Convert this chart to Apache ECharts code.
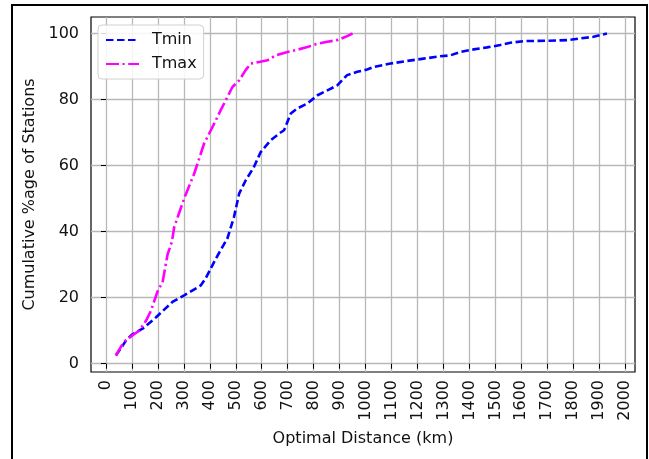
<!DOCTYPE html>
<html>
<head>
<meta charset="utf-8">
<script src="https://cdn.jsdelivr.net/npm/echarts@6/dist/echarts.min.js"></script>
<style>
  html, body { margin: 0; padding: 0; background: #fff; }
  #chart { width: 649px; height: 459px; }
</style>
</head>
<body>
<div id="chart"></div>
<script>
// values
const tminX = [38, 60, 77, 100, 141, 192, 256, 301, 365, 385, 423, 468, 493, 513, 538, 570, 596, 635, 667, 686,
  712, 737, 776, 815, 853, 891, 929, 968, 1006, 1032, 1096, 1160, 1224, 1288, 1327, 1365, 1417, 1468, 1519,
  1558, 1609, 1699, 1776, 1827, 1878, 1930]
const tminY = [2.5, 5, 7, 8.8, 10.6, 14, 18.7, 20.7, 23.7, 26, 31.8, 38, 44.4, 51.5, 55.5, 59.6, 64.1, 67.7, 69.7, 70.7,
  75.8, 77.3, 78.8, 81.3, 82.8, 84.3, 87.4, 88.4, 89.1, 89.9, 90.9, 91.7, 92.4, 93.1, 93.4, 94.4, 95.2, 95.8, 96.5,
  97.2, 97.7, 97.8, 98, 98.5, 99, 100]

const tmaxX = [38, 58, 75, 100, 128, 154, 173, 199, 218, 237, 254, 263, 301, 340, 378, 404, 423, 442, 468, 487,
  513, 538, 558, 590, 622, 654, 699, 737, 776, 815, 853, 891, 923, 950]
const tmaxY = [2.5, 5.2, 7, 8.5, 10, 13, 16, 22, 24.7, 33, 37, 41.4, 50, 57.6, 66.7, 70.7, 73.7, 76.8, 80.8, 83.8,
  85.8, 88.9, 90.9, 91.4, 91.9, 93.4, 94.4, 95.1, 95.9, 96.9, 97.5, 98, 99, 100]

const xTicks = [0, 100, 200, 300, 400, 500, 600, 700, 800, 900, 1000, 1100, 1200, 1300, 1400, 1500, 1600, 1700, 1800, 1900, 2000]
const yTicks = [0, 20, 40, 60, 80, 100]

const font = 'DejaVu Sans'
const fs = 16
const zip = (xs, ys) => xs.map((x, i) => [x, ys[i]])

const chart = echarts.init(document.getElementById('chart'))

const option = {
  animation: false,
  textStyle: { fontFamily: font },
  grid: {
    left: 91, right: 14, top: 17, bottom: 87,
    show: true, borderColor: '#000', borderWidth: 1.2,
    containLabel: false
  },
  legend: {
    orient: 'vertical',
    left: 98, top: 25,
    padding: [7, 7, 7, 7],
    itemGap: 8,
    itemWidth: 33, itemHeight: 16,
    backgroundColor: 'rgba(255,255,255,0.85)',
    borderColor: '#d0d0d0', borderWidth: 1, borderRadius: 4,
    itemStyle: { opacity: 0 },
    textStyle: { fontFamily: font, fontSize: fs, color: '#111', padding: [0, 0, 0, 8] },
    data: ['Tmin', 'Tmax']
  },
  xAxis: {
    type: 'value',
    min: -57.7, max: 2038,
    name: 'Optimal Distance (km)',
    nameLocation: 'middle', nameGap: 59,
    nameTextStyle: { fontFamily: font, fontSize: fs, color: '#111' },
    axisLine: { show: false },
    axisTick: { show: true, length: 5, lineStyle: { color: '#000', width: 1 }, customValues: xTicks },
    axisLabel: {
      rotate: 90, margin: 8, fontFamily: font, fontSize: fs, color: '#111',
      customValues: xTicks, formatter: v => String(v)
    },
    splitLine: { show: true, lineStyle: { color: '#b8b8b8', width: 1.3 } }
  },
  yAxis: {
    type: 'value',
    min: -2.5, max: 105,
    name: 'Cumulative %age of Stations',
    nameLocation: 'middle', nameGap: 51,
    nameTextStyle: { fontFamily: font, fontSize: fs, color: '#111' },
    axisLine: { show: false },
    axisTick: { show: true, length: 5, lineStyle: { color: '#000', width: 1 }, customValues: yTicks },
    axisLabel: { margin: 12, fontFamily: font, fontSize: fs, color: '#111', customValues: yTicks, formatter: v => String(v) },
    splitLine: { show: true, lineStyle: { color: '#b8b8b8', width: 1.3 } }
  },
  graphic: [{
    type: 'rect',
    shape: { x: 12, y: 5, width: 635, height: 470 },
    style: { fill: 'none', stroke: '#000', lineWidth: 2 },
    silent: true
  }],
  series: [
    {
      name: 'Tmin',
      type: 'line',
      symbol: 'none',
      data: zip(tminX, tminY),
      lineStyle: { color: '#0000ff', width: 2.6, type: [7.5, 3.5] },
      itemStyle: { color: '#0000ff' }
    },
    {
      name: 'Tmax',
      type: 'line',
      symbol: 'none',
      data: zip(tmaxX, tmaxY),
      lineStyle: { color: '#ff00ff', width: 2.6, type: [13, 3.5, 2.2, 3.5] },
      itemStyle: { color: '#ff00ff' }
    }
  ]
}

chart.setOption(option)
</script>
</body>
</html>
